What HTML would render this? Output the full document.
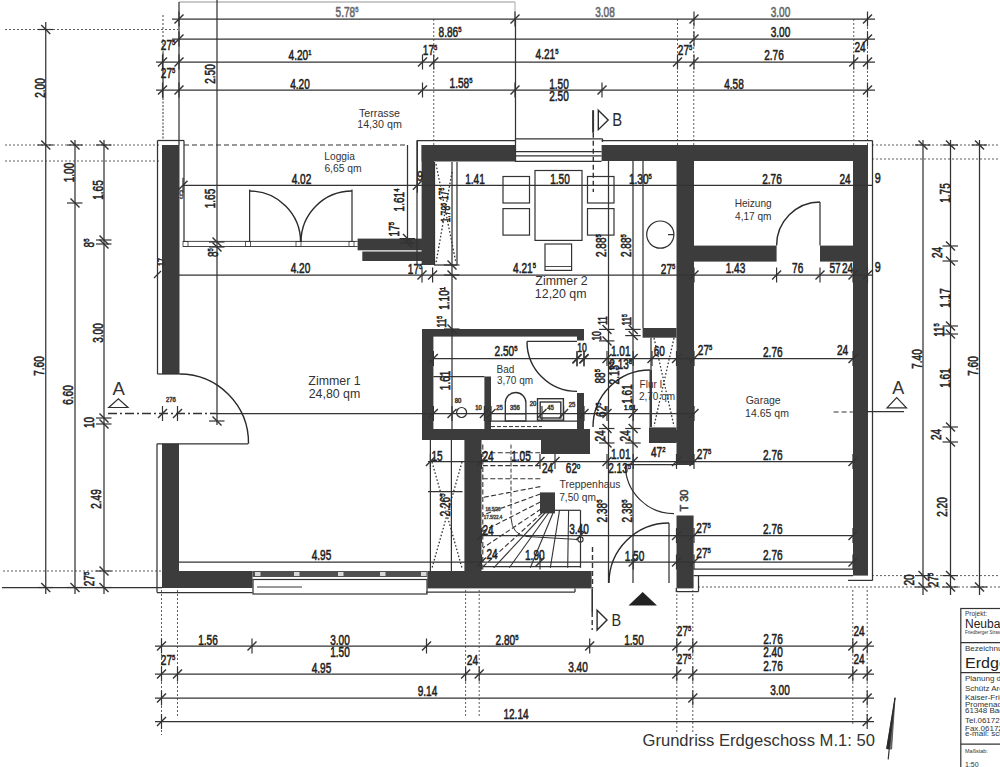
<!DOCTYPE html>
<html><head><meta charset="utf-8"><style>
html,body{margin:0;padding:0;background:#fff;overflow:hidden;}
svg{display:block;font-family:"Liberation Sans",sans-serif;}
</style></head><body>
<svg width="1000" height="767" viewBox="0 0 1000 767">
<rect width="1000" height="767" fill="#fff"/>
<line x1="179" y1="2" x2="515" y2="2" stroke="#b8b8b8" stroke-width="1.5"/>
<line x1="515" y1="2" x2="515" y2="19" stroke="#b8b8b8" stroke-width="1.2"/>
<line x1="172" y1="19" x2="875" y2="19" stroke="#333" stroke-width="1.25"/>
<line x1="172" y1="39" x2="875" y2="39" stroke="#333" stroke-width="1.25"/>
<line x1="156" y1="62" x2="875" y2="62" stroke="#333" stroke-width="1.25"/>
<line x1="156" y1="90" x2="875" y2="90" stroke="#333" stroke-width="1.25"/>
<line x1="179" y1="2" x2="179" y2="145" stroke="#333" stroke-width="1.25"/>
<line x1="515.5" y1="19" x2="515.5" y2="162" stroke="#333" stroke-width="1.25"/>
<line x1="217" y1="0" x2="217" y2="425" stroke="#333" stroke-width="1.25"/>
<line x1="163" y1="15" x2="163" y2="53" stroke="#333" stroke-width="0.9" stroke-dasharray="2,2"/>
<line x1="163" y1="53" x2="163" y2="98" stroke="#333" stroke-width="1.25"/>
<line x1="163" y1="98" x2="163" y2="140" stroke="#333" stroke-width="1" stroke-dasharray="2,1.5"/>
<line x1="433.75" y1="19" x2="433.75" y2="145" stroke="#333" stroke-width="0.8" stroke-dasharray="2,2"/>
<line x1="677.5" y1="19" x2="677.5" y2="145" stroke="#333" stroke-width="0.8" stroke-dasharray="2,2"/>
<line x1="693.75" y1="19" x2="693.75" y2="145" stroke="#333" stroke-width="0.8" stroke-dasharray="2,2"/>
<line x1="853.75" y1="19" x2="853.75" y2="145" stroke="#333" stroke-width="0.8" stroke-dasharray="2,2"/>
<line x1="867.5" y1="19" x2="867.5" y2="145" stroke="#333" stroke-width="0.8" stroke-dasharray="2,2"/>
<line x1="174.5" y1="23.5" x2="183.5" y2="14.5" stroke="#333" stroke-width="1.4"/>
<line x1="179" y1="11.5" x2="179" y2="26.5" stroke="#333" stroke-width="1.2"/>
<line x1="510.5" y1="23.5" x2="519.5" y2="14.5" stroke="#333" stroke-width="1.4"/>
<line x1="515" y1="11.5" x2="515" y2="26.5" stroke="#333" stroke-width="1.2"/>
<line x1="689.5" y1="23.5" x2="698.5" y2="14.5" stroke="#333" stroke-width="1.4"/>
<line x1="694" y1="11.5" x2="694" y2="26.5" stroke="#333" stroke-width="1.2"/>
<line x1="863.0" y1="23.5" x2="872.0" y2="14.5" stroke="#333" stroke-width="1.4"/>
<line x1="867.5" y1="11.5" x2="867.5" y2="26.5" stroke="#333" stroke-width="1.2"/>
<line x1="174.5" y1="43.5" x2="183.5" y2="34.5" stroke="#333" stroke-width="1.4"/>
<line x1="179" y1="31.5" x2="179" y2="46.5" stroke="#333" stroke-width="1.2"/>
<line x1="689.5" y1="43.5" x2="698.5" y2="34.5" stroke="#333" stroke-width="1.4"/>
<line x1="694" y1="31.5" x2="694" y2="46.5" stroke="#333" stroke-width="1.2"/>
<line x1="863.0" y1="43.5" x2="872.0" y2="34.5" stroke="#333" stroke-width="1.4"/>
<line x1="867.5" y1="31.5" x2="867.5" y2="46.5" stroke="#333" stroke-width="1.2"/>
<line x1="158.0" y1="66.5" x2="167.0" y2="57.5" stroke="#333" stroke-width="1.4"/>
<line x1="162.5" y1="54.5" x2="162.5" y2="69.5" stroke="#333" stroke-width="1.2"/>
<line x1="174.5" y1="66.5" x2="183.5" y2="57.5" stroke="#333" stroke-width="1.4"/>
<line x1="179" y1="54.5" x2="179" y2="69.5" stroke="#333" stroke-width="1.2"/>
<line x1="418.0" y1="66.5" x2="427.0" y2="57.5" stroke="#333" stroke-width="1.4"/>
<line x1="422.5" y1="54.5" x2="422.5" y2="69.5" stroke="#333" stroke-width="1.2"/>
<line x1="429.25" y1="66.5" x2="438.25" y2="57.5" stroke="#333" stroke-width="1.4"/>
<line x1="433.75" y1="54.5" x2="433.75" y2="69.5" stroke="#333" stroke-width="1.2"/>
<line x1="673.0" y1="66.5" x2="682.0" y2="57.5" stroke="#333" stroke-width="1.4"/>
<line x1="677.5" y1="54.5" x2="677.5" y2="69.5" stroke="#333" stroke-width="1.2"/>
<line x1="689.5" y1="66.5" x2="698.5" y2="57.5" stroke="#333" stroke-width="1.4"/>
<line x1="694" y1="54.5" x2="694" y2="69.5" stroke="#333" stroke-width="1.2"/>
<line x1="849.25" y1="66.5" x2="858.25" y2="57.5" stroke="#333" stroke-width="1.4"/>
<line x1="853.75" y1="54.5" x2="853.75" y2="69.5" stroke="#333" stroke-width="1.2"/>
<line x1="863.0" y1="66.5" x2="872.0" y2="57.5" stroke="#333" stroke-width="1.4"/>
<line x1="867.5" y1="54.5" x2="867.5" y2="69.5" stroke="#333" stroke-width="1.2"/>
<line x1="158.0" y1="94.5" x2="167.0" y2="85.5" stroke="#333" stroke-width="1.4"/>
<line x1="162.5" y1="82.5" x2="162.5" y2="97.5" stroke="#333" stroke-width="1.2"/>
<line x1="174.5" y1="94.5" x2="183.5" y2="85.5" stroke="#333" stroke-width="1.4"/>
<line x1="179" y1="82.5" x2="179" y2="97.5" stroke="#333" stroke-width="1.2"/>
<line x1="418.0" y1="94.5" x2="427.0" y2="85.5" stroke="#333" stroke-width="1.4"/>
<line x1="422.5" y1="82.5" x2="422.5" y2="97.5" stroke="#333" stroke-width="1.2"/>
<line x1="510.5" y1="94.5" x2="519.5" y2="85.5" stroke="#333" stroke-width="1.4"/>
<line x1="515" y1="82.5" x2="515" y2="97.5" stroke="#333" stroke-width="1.2"/>
<line x1="597.5" y1="94.5" x2="606.5" y2="85.5" stroke="#333" stroke-width="1.4"/>
<line x1="602" y1="82.5" x2="602" y2="97.5" stroke="#333" stroke-width="1.2"/>
<line x1="863.0" y1="94.5" x2="872.0" y2="85.5" stroke="#333" stroke-width="1.4"/>
<line x1="867.5" y1="82.5" x2="867.5" y2="97.5" stroke="#333" stroke-width="1.2"/>
<text transform="translate(347,12) scale(0.72,1)" y="5.04" text-anchor="middle" font-size="14" fill="#666" stroke="#666" stroke-width="0.55" font-weight="normal">5.78<tspan font-size="8.1" dy="-4.8">5</tspan></text>
<text transform="translate(605,12) scale(0.72,1)" y="5.04" text-anchor="middle" font-size="14" fill="#666" stroke="#666" stroke-width="0.55" font-weight="normal">3.08</text>
<text transform="translate(780.5,12) scale(0.72,1)" y="5.04" text-anchor="middle" font-size="14" fill="#666" stroke="#666" stroke-width="0.55" font-weight="normal">3.00</text>
<text transform="translate(450,32) scale(0.72,1)" y="5.04" text-anchor="middle" font-size="14" fill="#222" stroke="#222" stroke-width="0.55" font-weight="normal">8.86<tspan font-size="8.1" dy="-4.8">5</tspan></text>
<text transform="translate(780.5,32) scale(0.72,1)" y="5.04" text-anchor="middle" font-size="14" fill="#222" stroke="#222" stroke-width="0.55" font-weight="normal">3.00</text>
<text transform="translate(168,45) scale(0.72,1)" y="5.04" text-anchor="middle" font-size="14" fill="#222" stroke="#222" stroke-width="0.55" font-weight="normal">27<tspan font-size="8.1" dy="-4.8">5</tspan></text>
<text transform="translate(300,55) scale(0.72,1)" y="5.04" text-anchor="middle" font-size="14" fill="#222" stroke="#222" stroke-width="0.55" font-weight="normal">4.20<tspan font-size="8.1" dy="-4.8">1</tspan></text>
<text transform="translate(430,50) scale(0.72,1)" y="5.04" text-anchor="middle" font-size="14" fill="#222" stroke="#222" stroke-width="0.55" font-weight="normal">17<tspan font-size="8.1" dy="-4.8">5</tspan></text>
<text transform="translate(547,54) scale(0.72,1)" y="5.04" text-anchor="middle" font-size="14" fill="#222" stroke="#222" stroke-width="0.55" font-weight="normal">4.21<tspan font-size="8.1" dy="-4.8">5</tspan></text>
<text transform="translate(685,50) scale(0.72,1)" y="5.04" text-anchor="middle" font-size="14" fill="#222" stroke="#222" stroke-width="0.55" font-weight="normal">27<tspan font-size="8.1" dy="-4.8">5</tspan></text>
<text transform="translate(774,55) scale(0.72,1)" y="5.04" text-anchor="middle" font-size="14" fill="#222" stroke="#222" stroke-width="0.55" font-weight="normal">2.76</text>
<text transform="translate(860,47) scale(0.72,1)" y="5.04" text-anchor="middle" font-size="14" fill="#222" stroke="#222" stroke-width="0.55" font-weight="normal">24</text>
<text transform="translate(168,72.5) scale(0.72,1)" y="5.04" text-anchor="middle" font-size="14" fill="#222" stroke="#222" stroke-width="0.55" font-weight="normal">27<tspan font-size="8.1" dy="-4.8">5</tspan></text>
<text transform="translate(300,84) scale(0.72,1)" y="5.04" text-anchor="middle" font-size="14" fill="#222" stroke="#222" stroke-width="0.55" font-weight="normal">4.20</text>
<text transform="translate(461,82.5) scale(0.72,1)" y="5.04" text-anchor="middle" font-size="14" fill="#222" stroke="#222" stroke-width="0.55" font-weight="normal">1.58<tspan font-size="8.1" dy="-4.8">5</tspan></text>
<text transform="translate(559,84) scale(0.72,1)" y="5.04" text-anchor="middle" font-size="14" fill="#222" stroke="#222" stroke-width="0.55" font-weight="normal">1.50</text>
<text transform="translate(559,96) scale(0.72,1)" y="5.04" text-anchor="middle" font-size="14" fill="#222" stroke="#222" stroke-width="0.55" font-weight="normal">2.50</text>
<text transform="translate(734,84) scale(0.72,1)" y="5.04" text-anchor="middle" font-size="14" fill="#222" stroke="#222" stroke-width="0.55" font-weight="normal">4.58</text>
<text transform="translate(210,74) rotate(-90) scale(0.72,1)" y="5.04" text-anchor="middle" font-size="14" fill="#222" stroke="#222" stroke-width="0.55" font-weight="normal">2.50</text>
<line x1="45.75" y1="22" x2="45.75" y2="594" stroke="#333" stroke-width="1.25"/>
<line x1="41.25" y1="25.0" x2="50.25" y2="34.0" stroke="#333" stroke-width="1.4"/>
<line x1="37.75" y1="29.5" x2="53.25" y2="29.5" stroke="#333" stroke-width="1.2"/>
<line x1="41.25" y1="140.5" x2="50.25" y2="149.5" stroke="#333" stroke-width="1.4"/>
<line x1="37.75" y1="145" x2="53.25" y2="145" stroke="#333" stroke-width="1.2"/>
<line x1="41.25" y1="583.0" x2="50.25" y2="592.0" stroke="#333" stroke-width="1.4"/>
<line x1="37.75" y1="587.5" x2="53.25" y2="587.5" stroke="#333" stroke-width="1.2"/>
<line x1="75" y1="140" x2="75" y2="594" stroke="#333" stroke-width="1.25"/>
<line x1="70.5" y1="140.5" x2="79.5" y2="149.5" stroke="#333" stroke-width="1.4"/>
<line x1="67" y1="145" x2="82.5" y2="145" stroke="#333" stroke-width="1.2"/>
<line x1="70.5" y1="198.5" x2="79.5" y2="207.5" stroke="#333" stroke-width="1.4"/>
<line x1="67" y1="203" x2="82.5" y2="203" stroke="#333" stroke-width="1.2"/>
<line x1="70.5" y1="583.0" x2="79.5" y2="592.0" stroke="#333" stroke-width="1.4"/>
<line x1="67" y1="587.5" x2="82.5" y2="587.5" stroke="#333" stroke-width="1.2"/>
<line x1="104" y1="140" x2="104" y2="594" stroke="#333" stroke-width="1.25"/>
<line x1="99.5" y1="140.5" x2="108.5" y2="149.5" stroke="#333" stroke-width="1.4"/>
<line x1="96" y1="145" x2="111.5" y2="145" stroke="#333" stroke-width="1.2"/>
<line x1="99.5" y1="235.5" x2="108.5" y2="244.5" stroke="#333" stroke-width="1.4"/>
<line x1="96" y1="240" x2="111.5" y2="240" stroke="#333" stroke-width="1.2"/>
<line x1="99.5" y1="239.5" x2="108.5" y2="248.5" stroke="#333" stroke-width="1.4"/>
<line x1="96" y1="244" x2="111.5" y2="244" stroke="#333" stroke-width="1.2"/>
<line x1="99.5" y1="413.5" x2="108.5" y2="422.5" stroke="#333" stroke-width="1.4"/>
<line x1="96" y1="418" x2="111.5" y2="418" stroke="#333" stroke-width="1.2"/>
<line x1="99.5" y1="419.5" x2="108.5" y2="428.5" stroke="#333" stroke-width="1.4"/>
<line x1="96" y1="424" x2="111.5" y2="424" stroke="#333" stroke-width="1.2"/>
<line x1="99.5" y1="566.5" x2="108.5" y2="575.5" stroke="#333" stroke-width="1.4"/>
<line x1="96" y1="571" x2="111.5" y2="571" stroke="#333" stroke-width="1.2"/>
<line x1="99.5" y1="583.0" x2="108.5" y2="592.0" stroke="#333" stroke-width="1.4"/>
<line x1="96" y1="587.5" x2="111.5" y2="587.5" stroke="#333" stroke-width="1.2"/>
<line x1="5" y1="29.5" x2="178" y2="29.5" stroke="#333" stroke-width="0.8" stroke-dasharray="2,2"/>
<line x1="5" y1="145" x2="160" y2="145" stroke="#333" stroke-width="0.8" stroke-dasharray="2,2"/>
<line x1="5" y1="161" x2="160" y2="161" stroke="#333" stroke-width="0.8" stroke-dasharray="2,2"/>
<line x1="3" y1="571" x2="162" y2="571" stroke="#333" stroke-width="0.8" stroke-dasharray="2,2"/>
<line x1="2" y1="587.5" x2="162" y2="587.5" stroke="#333" stroke-width="1.25"/>
<text transform="translate(40,88) rotate(-90) scale(0.72,1)" y="5.04" text-anchor="middle" font-size="14" fill="#222" stroke="#222" stroke-width="0.55" font-weight="normal">2.00</text>
<text transform="translate(39,366) rotate(-90) scale(0.72,1)" y="5.04" text-anchor="middle" font-size="14" fill="#222" stroke="#222" stroke-width="0.55" font-weight="normal">7.60</text>
<text transform="translate(68.5,172.5) rotate(-90) scale(0.72,1)" y="5.04" text-anchor="middle" font-size="14" fill="#222" stroke="#222" stroke-width="0.55" font-weight="normal">1.00</text>
<text transform="translate(67.5,395) rotate(-90) scale(0.72,1)" y="5.04" text-anchor="middle" font-size="14" fill="#222" stroke="#222" stroke-width="0.55" font-weight="normal">6.60</text>
<text transform="translate(97.5,190) rotate(-90) scale(0.72,1)" y="5.04" text-anchor="middle" font-size="14" fill="#222" stroke="#222" stroke-width="0.55" font-weight="normal">1.65</text>
<text transform="translate(89,243) rotate(-90) scale(0.72,1)" y="5.04" text-anchor="middle" font-size="14" fill="#222" stroke="#222" stroke-width="0.55" font-weight="normal">8<tspan font-size="8.1" dy="-4.8">5</tspan></text>
<text transform="translate(97.5,333) rotate(-90) scale(0.72,1)" y="5.04" text-anchor="middle" font-size="14" fill="#222" stroke="#222" stroke-width="0.55" font-weight="normal">3.00</text>
<text transform="translate(89,422.5) rotate(-90) scale(0.72,1)" y="5.04" text-anchor="middle" font-size="14" fill="#222" stroke="#222" stroke-width="0.55" font-weight="normal">10</text>
<text transform="translate(96,499) rotate(-90) scale(0.72,1)" y="5.04" text-anchor="middle" font-size="14" fill="#222" stroke="#222" stroke-width="0.55" font-weight="normal">2.49</text>
<text transform="translate(89,579) rotate(-90) scale(0.72,1)" y="5.04" text-anchor="middle" font-size="14" fill="#222" stroke="#222" stroke-width="0.55" font-weight="normal">27<tspan font-size="8.1" dy="-4.8">5</tspan></text>
<line x1="923" y1="140" x2="923" y2="595" stroke="#333" stroke-width="1.25"/>
<line x1="918.5" y1="140.5" x2="927.5" y2="149.5" stroke="#333" stroke-width="1.4"/>
<line x1="915" y1="145" x2="930.5" y2="145" stroke="#333" stroke-width="1.2"/>
<line x1="918.5" y1="571.1" x2="927.5" y2="580.1" stroke="#333" stroke-width="1.4"/>
<line x1="915" y1="575.6" x2="930.5" y2="575.6" stroke="#333" stroke-width="1.2"/>
<line x1="918.5" y1="582.5" x2="927.5" y2="591.5" stroke="#333" stroke-width="1.4"/>
<line x1="915" y1="587" x2="930.5" y2="587" stroke="#333" stroke-width="1.2"/>
<line x1="950.5" y1="140" x2="950.5" y2="595" stroke="#333" stroke-width="1.25"/>
<line x1="946.0" y1="140.5" x2="955.0" y2="149.5" stroke="#333" stroke-width="1.4"/>
<line x1="942.5" y1="145" x2="958.0" y2="145" stroke="#333" stroke-width="1.2"/>
<line x1="946.0" y1="241.5" x2="955.0" y2="250.5" stroke="#333" stroke-width="1.4"/>
<line x1="942.5" y1="246" x2="958.0" y2="246" stroke="#333" stroke-width="1.2"/>
<line x1="946.0" y1="256.5" x2="955.0" y2="265.5" stroke="#333" stroke-width="1.4"/>
<line x1="942.5" y1="261" x2="958.0" y2="261" stroke="#333" stroke-width="1.2"/>
<line x1="946.0" y1="321.5" x2="955.0" y2="330.5" stroke="#333" stroke-width="1.4"/>
<line x1="942.5" y1="326" x2="958.0" y2="326" stroke="#333" stroke-width="1.2"/>
<line x1="946.0" y1="329.5" x2="955.0" y2="338.5" stroke="#333" stroke-width="1.4"/>
<line x1="942.5" y1="334" x2="958.0" y2="334" stroke="#333" stroke-width="1.2"/>
<line x1="946.0" y1="422.5" x2="955.0" y2="431.5" stroke="#333" stroke-width="1.4"/>
<line x1="942.5" y1="427" x2="958.0" y2="427" stroke="#333" stroke-width="1.2"/>
<line x1="946.0" y1="437.5" x2="955.0" y2="446.5" stroke="#333" stroke-width="1.4"/>
<line x1="942.5" y1="442" x2="958.0" y2="442" stroke="#333" stroke-width="1.2"/>
<line x1="946.0" y1="571.1" x2="955.0" y2="580.1" stroke="#333" stroke-width="1.4"/>
<line x1="942.5" y1="575.6" x2="958.0" y2="575.6" stroke="#333" stroke-width="1.2"/>
<line x1="946.0" y1="582.5" x2="955.0" y2="591.5" stroke="#333" stroke-width="1.4"/>
<line x1="942.5" y1="587" x2="958.0" y2="587" stroke="#333" stroke-width="1.2"/>
<line x1="979.5" y1="140" x2="979.5" y2="595" stroke="#333" stroke-width="1.25"/>
<line x1="975.0" y1="140.5" x2="984.0" y2="149.5" stroke="#333" stroke-width="1.4"/>
<line x1="971.5" y1="145" x2="987.0" y2="145" stroke="#333" stroke-width="1.2"/>
<line x1="975.0" y1="582.5" x2="984.0" y2="591.5" stroke="#333" stroke-width="1.4"/>
<line x1="971.5" y1="587" x2="987.0" y2="587" stroke="#333" stroke-width="1.2"/>
<line x1="872" y1="145" x2="1000" y2="145" stroke="#333" stroke-width="0.8" stroke-dasharray="2,2"/>
<line x1="872" y1="159" x2="1000" y2="159" stroke="#333" stroke-width="0.8" stroke-dasharray="2,2"/>
<line x1="872" y1="575.6" x2="1000" y2="575.6" stroke="#333" stroke-width="0.8" stroke-dasharray="2,2"/>
<line x1="698" y1="587" x2="1000" y2="587" stroke="#333" stroke-width="0.8" stroke-dasharray="2,2"/>
<text transform="translate(917,359) rotate(-90) scale(0.72,1)" y="5.04" text-anchor="middle" font-size="14" fill="#222" stroke="#222" stroke-width="0.55" font-weight="normal">7.40</text>
<text transform="translate(945,193) rotate(-90) scale(0.72,1)" y="5.04" text-anchor="middle" font-size="14" fill="#222" stroke="#222" stroke-width="0.55" font-weight="normal">1.75</text>
<text transform="translate(937,252.5) rotate(-90) scale(0.72,1)" y="5.04" text-anchor="middle" font-size="14" fill="#222" stroke="#222" stroke-width="0.55" font-weight="normal">24</text>
<text transform="translate(945,298) rotate(-90) scale(0.72,1)" y="5.04" text-anchor="middle" font-size="14" fill="#222" stroke="#222" stroke-width="0.55" font-weight="normal">1.17</text>
<text transform="translate(939,330) rotate(-90) scale(0.72,1)" y="5.04" text-anchor="middle" font-size="14" fill="#222" stroke="#222" stroke-width="0.55" font-weight="normal">11<tspan font-size="8.1" dy="-4.8">5</tspan></text>
<text transform="translate(945,378) rotate(-90) scale(0.72,1)" y="5.04" text-anchor="middle" font-size="14" fill="#222" stroke="#222" stroke-width="0.55" font-weight="normal">1.61</text>
<text transform="translate(936,434.5) rotate(-90) scale(0.72,1)" y="5.04" text-anchor="middle" font-size="14" fill="#222" stroke="#222" stroke-width="0.55" font-weight="normal">24</text>
<text transform="translate(942,507) rotate(-90) scale(0.72,1)" y="5.04" text-anchor="middle" font-size="14" fill="#222" stroke="#222" stroke-width="0.55" font-weight="normal">2.20</text>
<text transform="translate(909,580) rotate(-90) scale(0.72,1)" y="5.04" text-anchor="middle" font-size="14" fill="#222" stroke="#222" stroke-width="0.55" font-weight="normal">20</text>
<text transform="translate(933,580) rotate(-90) scale(0.72,1)" y="5.04" text-anchor="middle" font-size="14" fill="#222" stroke="#222" stroke-width="0.55" font-weight="normal">27<tspan font-size="8.1" dy="-4.8">5</tspan></text>
<text transform="translate(973,366) rotate(-90) scale(0.72,1)" y="5.04" text-anchor="middle" font-size="14" fill="#222" stroke="#222" stroke-width="0.55" font-weight="normal">7.60</text>
<line x1="155" y1="646" x2="874" y2="646" stroke="#333" stroke-width="1.25"/>
<line x1="155" y1="674" x2="874" y2="674" stroke="#333" stroke-width="1.25"/>
<line x1="155" y1="698" x2="874" y2="698" stroke="#333" stroke-width="1.25"/>
<line x1="155" y1="721.5" x2="874" y2="721.5" stroke="#333" stroke-width="1.25"/>
<line x1="157.0" y1="650.5" x2="166.0" y2="641.5" stroke="#333" stroke-width="1.4"/>
<line x1="161.5" y1="638.5" x2="161.5" y2="653.5" stroke="#333" stroke-width="1.2"/>
<line x1="247.5" y1="650.5" x2="256.5" y2="641.5" stroke="#333" stroke-width="1.4"/>
<line x1="252" y1="638.5" x2="252" y2="653.5" stroke="#333" stroke-width="1.2"/>
<line x1="422.0" y1="650.5" x2="431.0" y2="641.5" stroke="#333" stroke-width="1.4"/>
<line x1="426.5" y1="638.5" x2="426.5" y2="653.5" stroke="#333" stroke-width="1.2"/>
<line x1="585.2" y1="650.5" x2="594.2" y2="641.5" stroke="#333" stroke-width="1.4"/>
<line x1="589.7" y1="638.5" x2="589.7" y2="653.5" stroke="#333" stroke-width="1.2"/>
<line x1="672.3" y1="650.5" x2="681.3" y2="641.5" stroke="#333" stroke-width="1.4"/>
<line x1="676.8" y1="638.5" x2="676.8" y2="653.5" stroke="#333" stroke-width="1.2"/>
<line x1="688.3" y1="650.5" x2="697.3" y2="641.5" stroke="#333" stroke-width="1.4"/>
<line x1="692.8" y1="638.5" x2="692.8" y2="653.5" stroke="#333" stroke-width="1.2"/>
<line x1="848.3" y1="650.5" x2="857.3" y2="641.5" stroke="#333" stroke-width="1.4"/>
<line x1="852.8" y1="638.5" x2="852.8" y2="653.5" stroke="#333" stroke-width="1.2"/>
<line x1="862.7" y1="650.5" x2="871.7" y2="641.5" stroke="#333" stroke-width="1.4"/>
<line x1="867.2" y1="638.5" x2="867.2" y2="653.5" stroke="#333" stroke-width="1.2"/>
<line x1="157.0" y1="678.5" x2="166.0" y2="669.5" stroke="#333" stroke-width="1.4"/>
<line x1="161.5" y1="666.5" x2="161.5" y2="681.5" stroke="#333" stroke-width="1.2"/>
<line x1="173.0" y1="678.5" x2="182.0" y2="669.5" stroke="#333" stroke-width="1.4"/>
<line x1="177.5" y1="666.5" x2="177.5" y2="681.5" stroke="#333" stroke-width="1.2"/>
<line x1="461.1" y1="678.5" x2="470.1" y2="669.5" stroke="#333" stroke-width="1.4"/>
<line x1="465.6" y1="666.5" x2="465.6" y2="681.5" stroke="#333" stroke-width="1.2"/>
<line x1="474.7" y1="678.5" x2="483.7" y2="669.5" stroke="#333" stroke-width="1.4"/>
<line x1="479.2" y1="666.5" x2="479.2" y2="681.5" stroke="#333" stroke-width="1.2"/>
<line x1="672.3" y1="678.5" x2="681.3" y2="669.5" stroke="#333" stroke-width="1.4"/>
<line x1="676.8" y1="666.5" x2="676.8" y2="681.5" stroke="#333" stroke-width="1.2"/>
<line x1="688.3" y1="678.5" x2="697.3" y2="669.5" stroke="#333" stroke-width="1.4"/>
<line x1="692.8" y1="666.5" x2="692.8" y2="681.5" stroke="#333" stroke-width="1.2"/>
<line x1="848.3" y1="678.5" x2="857.3" y2="669.5" stroke="#333" stroke-width="1.4"/>
<line x1="852.8" y1="666.5" x2="852.8" y2="681.5" stroke="#333" stroke-width="1.2"/>
<line x1="862.7" y1="678.5" x2="871.7" y2="669.5" stroke="#333" stroke-width="1.4"/>
<line x1="867.2" y1="666.5" x2="867.2" y2="681.5" stroke="#333" stroke-width="1.2"/>
<line x1="157.0" y1="702.5" x2="166.0" y2="693.5" stroke="#333" stroke-width="1.4"/>
<line x1="161.5" y1="690.5" x2="161.5" y2="705.5" stroke="#333" stroke-width="1.2"/>
<line x1="688.3" y1="702.5" x2="697.3" y2="693.5" stroke="#333" stroke-width="1.4"/>
<line x1="692.8" y1="690.5" x2="692.8" y2="705.5" stroke="#333" stroke-width="1.2"/>
<line x1="862.7" y1="702.5" x2="871.7" y2="693.5" stroke="#333" stroke-width="1.4"/>
<line x1="867.2" y1="690.5" x2="867.2" y2="705.5" stroke="#333" stroke-width="1.2"/>
<line x1="157.0" y1="726.0" x2="166.0" y2="717.0" stroke="#333" stroke-width="1.4"/>
<line x1="161.5" y1="714.0" x2="161.5" y2="729.0" stroke="#333" stroke-width="1.2"/>
<line x1="862.7" y1="726.0" x2="871.7" y2="717.0" stroke="#333" stroke-width="1.4"/>
<line x1="867.2" y1="714.0" x2="867.2" y2="729.0" stroke="#333" stroke-width="1.2"/>
<line x1="161.5" y1="590" x2="161.5" y2="735" stroke="#333" stroke-width="0.8" stroke-dasharray="2,2"/>
<line x1="177.5" y1="590" x2="177.5" y2="718" stroke="#333" stroke-width="0.8" stroke-dasharray="2,2"/>
<line x1="465.6" y1="590" x2="465.6" y2="718" stroke="#333" stroke-width="0.8" stroke-dasharray="2,2"/>
<line x1="479.2" y1="590" x2="479.2" y2="718" stroke="#333" stroke-width="0.8" stroke-dasharray="2,2"/>
<line x1="676.8" y1="590" x2="676.8" y2="733" stroke="#333" stroke-width="0.8" stroke-dasharray="2,2"/>
<line x1="692.8" y1="590" x2="692.8" y2="733" stroke="#333" stroke-width="0.8" stroke-dasharray="2,2"/>
<line x1="852.8" y1="590" x2="852.8" y2="725" stroke="#333" stroke-width="0.8" stroke-dasharray="2,2"/>
<line x1="867.2" y1="590" x2="867.2" y2="725" stroke="#333" stroke-width="0.8" stroke-dasharray="2,2"/>
<text transform="translate(208,639.5) scale(0.72,1)" y="5.04" text-anchor="middle" font-size="14" fill="#222" stroke="#222" stroke-width="0.55" font-weight="normal">1.56</text>
<text transform="translate(340,639.5) scale(0.72,1)" y="5.04" text-anchor="middle" font-size="14" fill="#222" stroke="#222" stroke-width="0.55" font-weight="normal">3.00</text>
<text transform="translate(340,652) scale(0.72,1)" y="5.04" text-anchor="middle" font-size="14" fill="#222" stroke="#222" stroke-width="0.55" font-weight="normal">1.50</text>
<text transform="translate(507,639.5) scale(0.72,1)" y="5.04" text-anchor="middle" font-size="14" fill="#222" stroke="#222" stroke-width="0.55" font-weight="normal">2.80<tspan font-size="8.1" dy="-4.8">5</tspan></text>
<text transform="translate(634,639.5) scale(0.72,1)" y="5.04" text-anchor="middle" font-size="14" fill="#222" stroke="#222" stroke-width="0.55" font-weight="normal">1.50</text>
<text transform="translate(684,631) scale(0.72,1)" y="5.04" text-anchor="middle" font-size="14" fill="#222" stroke="#222" stroke-width="0.55" font-weight="normal">27<tspan font-size="8.1" dy="-4.8">5</tspan></text>
<text transform="translate(773,639) scale(0.72,1)" y="5.04" text-anchor="middle" font-size="14" fill="#222" stroke="#222" stroke-width="0.55" font-weight="normal">2.76</text>
<text transform="translate(773,652) scale(0.72,1)" y="5.04" text-anchor="middle" font-size="14" fill="#222" stroke="#222" stroke-width="0.55" font-weight="normal">2.40</text>
<text transform="translate(859,631) scale(0.72,1)" y="5.04" text-anchor="middle" font-size="14" fill="#222" stroke="#222" stroke-width="0.55" font-weight="normal">24</text>
<text transform="translate(168,660) scale(0.72,1)" y="5.04" text-anchor="middle" font-size="14" fill="#222" stroke="#222" stroke-width="0.55" font-weight="normal">27<tspan font-size="8.1" dy="-4.8">5</tspan></text>
<text transform="translate(321.5,667.5) scale(0.72,1)" y="5.04" text-anchor="middle" font-size="14" fill="#222" stroke="#222" stroke-width="0.55" font-weight="normal">4.95</text>
<text transform="translate(472.4,660) scale(0.72,1)" y="5.04" text-anchor="middle" font-size="14" fill="#222" stroke="#222" stroke-width="0.55" font-weight="normal">24</text>
<text transform="translate(578,667) scale(0.72,1)" y="5.04" text-anchor="middle" font-size="14" fill="#222" stroke="#222" stroke-width="0.55" font-weight="normal">3.40</text>
<text transform="translate(684,659) scale(0.72,1)" y="5.04" text-anchor="middle" font-size="14" fill="#222" stroke="#222" stroke-width="0.55" font-weight="normal">27<tspan font-size="8.1" dy="-4.8">5</tspan></text>
<text transform="translate(773,666) scale(0.72,1)" y="5.04" text-anchor="middle" font-size="14" fill="#222" stroke="#222" stroke-width="0.55" font-weight="normal">2.76</text>
<text transform="translate(859,659) scale(0.72,1)" y="5.04" text-anchor="middle" font-size="14" fill="#222" stroke="#222" stroke-width="0.55" font-weight="normal">24</text>
<text transform="translate(427.5,690.5) scale(0.72,1)" y="5.04" text-anchor="middle" font-size="14" fill="#222" stroke="#222" stroke-width="0.55" font-weight="normal">9.14</text>
<text transform="translate(780,690) scale(0.72,1)" y="5.04" text-anchor="middle" font-size="14" fill="#222" stroke="#222" stroke-width="0.55" font-weight="normal">3.00</text>
<text transform="translate(516,714) scale(0.72,1)" y="5.04" text-anchor="middle" font-size="14" fill="#222" stroke="#222" stroke-width="0.55" font-weight="normal">12.14</text>
<rect x="162" y="145" width="17.5" height="229" fill="#3c3c3c"/>
<rect x="162" y="443.75" width="17" height="144.25" fill="#3c3c3c"/>
<rect x="162" y="571" width="90.5" height="17" fill="#3c3c3c"/>
<rect x="427.4" y="571" width="164.2" height="17.4" fill="#3c3c3c"/>
<rect x="421.6" y="145" width="93.9" height="16.5" fill="#3c3c3c"/>
<rect x="601.6" y="145" width="266.4" height="16" fill="#3c3c3c"/>
<rect x="421.6" y="145" width="12.4" height="120" fill="#3c3c3c"/>
<rect x="357.6" y="238.6" width="76.4" height="11.7" fill="#3c3c3c"/>
<rect x="362.3" y="251.5" width="71.7" height="9.5" fill="#3c3c3c"/>
<rect x="676.5" y="161" width="17.5" height="304" fill="#3c3c3c"/>
<rect x="676.5" y="515.5" width="17.1" height="72.9" fill="#3c3c3c"/>
<rect x="853" y="145" width="15" height="430.6" fill="#3c3c3c"/>
<rect x="694" y="245.6" width="82.6" height="16.0" fill="#3c3c3c"/>
<rect x="820" y="245.6" width="33" height="16.0" fill="#3c3c3c"/>
<rect x="422" y="329" width="11.4" height="111" fill="#3c3c3c"/>
<rect x="422" y="329" width="161.4" height="7.6" fill="#3c3c3c"/>
<rect x="577" y="329" width="7" height="11.5" fill="#3c3c3c"/>
<rect x="577" y="393" width="7" height="39" fill="#3c3c3c"/>
<rect x="422" y="429" width="168" height="11" fill="#3c3c3c"/>
<rect x="541" y="440" width="49" height="14" fill="#3c3c3c"/>
<rect x="464.4" y="430" width="17.1" height="141" fill="#3c3c3c"/>
<rect x="642.6" y="328" width="33.9" height="9.7" fill="#3c3c3c"/>
<rect x="649" y="427.4" width="27.5" height="15.6" fill="#3c3c3c"/>
<rect x="649.5" y="430" width="44.1" height="12" fill="#3c3c3c"/>
<rect x="540" y="492.4" width="15" height="21.0" fill="#3c3c3c"/>
<line x1="157.5" y1="140.5" x2="157.5" y2="374" stroke="#333" stroke-width="1.25"/>
<line x1="157.5" y1="140.5" x2="184" y2="140.5" stroke="#333" stroke-width="1.25"/>
<line x1="184" y1="140.5" x2="184" y2="242" stroke="#333" stroke-width="1.25"/>
<line x1="157.5" y1="374" x2="179.5" y2="374" stroke="#333" stroke-width="1.25"/>
<line x1="157" y1="443.75" x2="157" y2="592.5" stroke="#333" stroke-width="1.25"/>
<line x1="157" y1="443.75" x2="248" y2="443.75" stroke="#333" stroke-width="1.25"/>
<line x1="157" y1="592.5" x2="252.5" y2="592.5" stroke="#333" stroke-width="1.25"/>
<line x1="184" y1="145" x2="407.5" y2="145" stroke="#333" stroke-width="1.2" stroke-dasharray="5,3"/>
<line x1="407.5" y1="145" x2="407.5" y2="242" stroke="#333" stroke-width="1.25"/>
<line x1="417.4" y1="140" x2="417.4" y2="185" stroke="#333" stroke-width="1.25"/>
<line x1="417" y1="140.5" x2="515.5" y2="140.5" stroke="#333" stroke-width="1.25"/>
<line x1="417" y1="140.5" x2="417" y2="264" stroke="#333" stroke-width="1.25"/>
<line x1="601.6" y1="140.5" x2="872.5" y2="140.5" stroke="#333" stroke-width="1.25"/>
<line x1="872.5" y1="140.5" x2="872.5" y2="580.4" stroke="#333" stroke-width="1.25"/>
<line x1="515.5" y1="138.8" x2="602.5" y2="138.8" stroke="#333" stroke-width="1.25"/>
<line x1="602.5" y1="138.8" x2="602.5" y2="142" stroke="#333" stroke-width="1.25"/>
<line x1="515.5" y1="151.6" x2="601.6" y2="151.6" stroke="#333" stroke-width="1.2"/>
<line x1="515.5" y1="155.8" x2="601.6" y2="155.8" stroke="#333" stroke-width="1.2"/>
<line x1="515.5" y1="161.4" x2="601.6" y2="161.4" stroke="#333" stroke-width="1.2"/>
<line x1="183" y1="241.4" x2="357.6" y2="241.4" stroke="#333" stroke-width="0.9"/>
<line x1="183" y1="246.5" x2="357.6" y2="246.5" stroke="#333" stroke-width="0.9"/>
<rect x="183" y="241.4" width="5" height="5.1" fill="none" stroke="#333" stroke-width="0.8"/>
<rect x="245.5" y="241.4" width="5.0" height="5.1" fill="none" stroke="#333" stroke-width="0.8"/>
<rect x="296" y="241.4" width="5" height="5.1" fill="none" stroke="#333" stroke-width="0.8"/>
<rect x="349" y="241.4" width="5" height="5.1" fill="none" stroke="#333" stroke-width="0.8"/>
<line x1="249.6" y1="189.5" x2="249.6" y2="242" stroke="#333" stroke-width="1.25"/>
<path d="M249.6,191 A51,51 0 0 1 300.6,242" fill="none" stroke="#2a2a2a" stroke-width="1.4"/>
<line x1="352" y1="189.5" x2="352" y2="242" stroke="#333" stroke-width="1.25"/>
<path d="M352,191 A51,51 0 0 0 301,242" fill="none" stroke="#2a2a2a" stroke-width="1.4"/>
<line x1="434.5" y1="162" x2="434.5" y2="265" stroke="#333" stroke-width="1.25"/>
<line x1="452" y1="162" x2="452" y2="429" stroke="#333" stroke-width="1.25"/>
<line x1="457" y1="162" x2="457" y2="265" stroke="#333" stroke-width="1.25"/>
<line x1="434" y1="265" x2="457" y2="265" stroke="#333" stroke-width="1.25"/>
<line x1="436" y1="164" x2="456" y2="263" stroke="#333" stroke-width="1.3" stroke-dasharray="1.6,2"/>
<line x1="452" y1="172" x2="436" y2="263" stroke="#333" stroke-width="1.3" stroke-dasharray="1.6,2"/>
<line x1="183" y1="185.3" x2="872.5" y2="185.3" stroke="#333" stroke-width="1.25"/>
<line x1="179" y1="275" x2="872.5" y2="275" stroke="#333" stroke-width="1.25"/>
<line x1="433" y1="358.5" x2="853" y2="358.5" stroke="#333" stroke-width="1.25"/>
<line x1="108" y1="413.5" x2="216" y2="413.5" stroke="#333" stroke-width="1.3" stroke-dasharray="9,3,2,3"/>
<line x1="216" y1="413.5" x2="421" y2="413.5" stroke="#333" stroke-width="1.25"/>
<line x1="421" y1="413.5" x2="694" y2="413.5" stroke="#333" stroke-width="1.25"/>
<line x1="428" y1="461.5" x2="853" y2="461.5" stroke="#333" stroke-width="1.25"/>
<line x1="481" y1="535.6" x2="853" y2="535.6" stroke="#333" stroke-width="1.25"/>
<line x1="179" y1="562" x2="853" y2="562" stroke="#333" stroke-width="1.25"/>
<line x1="428" y1="491.5" x2="462.5" y2="491.5" stroke="#333" stroke-width="1.25"/>
<line x1="608.5" y1="161" x2="608.5" y2="583" stroke="#333" stroke-width="1.25"/>
<line x1="633" y1="161" x2="633" y2="583" stroke="#333" stroke-width="1.25"/>
<line x1="643" y1="161" x2="643" y2="328" stroke="#333" stroke-width="1.25"/>
<line x1="593.3" y1="132.7" x2="593.3" y2="192" stroke="#333" stroke-width="1.4" stroke-dasharray="5,3"/>
<line x1="592.5" y1="547" x2="592.5" y2="588.6" stroke="#333" stroke-width="1.4" stroke-dasharray="5,3"/>
<line x1="592.2" y1="612" x2="592.2" y2="630" stroke="#333" stroke-width="1.4" stroke-dasharray="5,3"/>
<rect x="535" y="170.5" width="47" height="69.9" fill="none" stroke="#333" stroke-width="1.2"/>
<rect x="503" y="176.5" width="26.5" height="26.5" fill="none" stroke="#333" stroke-width="1.2"/>
<rect x="503" y="208.6" width="26.5" height="26.5" fill="none" stroke="#333" stroke-width="1.2"/>
<rect x="587.5" y="176.5" width="26.5" height="26.5" fill="none" stroke="#333" stroke-width="1.2"/>
<rect x="587.5" y="208.6" width="26.5" height="26.5" fill="none" stroke="#333" stroke-width="1.2"/>
<rect x="545" y="244" width="26.6" height="26.4" fill="none" stroke="#333" stroke-width="1.2"/>
<line x1="545" y1="266.5" x2="571.6" y2="266.5" stroke="#333" stroke-width="0.9"/>
<circle cx="660.3" cy="234.6" r="13.6" fill="none" stroke="#2e2e2e" stroke-width="1.2"/>
<line x1="668" y1="234.6" x2="674" y2="234.6" stroke="#333" stroke-width="1.25"/>
<line x1="820" y1="202" x2="820" y2="245.6" stroke="#333" stroke-width="1.25"/>
<path d="M820,202 A43.6,43.6 0 0 0 776.6,245.6" fill="none" stroke="#2a2a2a" stroke-width="1.4"/>
<path d="M179.5,374 A69,69 0 0 1 248.5,443.75" fill="none" stroke="#2a2a2a" stroke-width="1.4"/>
<line x1="527" y1="341.4" x2="577" y2="341.4" stroke="#333" stroke-width="1.25"/>
<path d="M527,341.4 A50,50 0 0 0 577,391.4" fill="none" stroke="#2a2a2a" stroke-width="1.4"/>
<path d="M650,370 A57,57 0 0 0 593,427" fill="none" stroke="#2a2a2a" stroke-width="1.4"/>
<rect x="649.5" y="370" width="2.5" height="57" fill="#3c3c3c"/>
<line x1="651" y1="337.7" x2="651" y2="370" stroke="#333" stroke-width="1.25"/>
<line x1="654" y1="338" x2="674" y2="426" stroke="#333" stroke-width="1.3" stroke-dasharray="1.6,2"/>
<line x1="674" y1="338" x2="654" y2="426" stroke="#333" stroke-width="1.3" stroke-dasharray="1.6,2"/>
<line x1="433.4" y1="376.5" x2="484.4" y2="376.5" stroke="#333" stroke-width="1.25"/>
<rect x="484.4" y="376.5" width="6.6" height="52.5" fill="#3c3c3c"/>
<circle cx="461.6" cy="412.5" r="5" fill="none" stroke="#2e2e2e" stroke-width="1.2"/>
<path d="M505.3,413.7 L505.3,402.8 A10.3,10.3 0 0 1 525.9,402.8 L525.9,413.7" fill="none" stroke="#2e2e2e" stroke-width="1.3"/>
<rect x="505.3" y="413.7" width="20.6" height="7.3" fill="none" stroke="#333" stroke-width="1.3"/>
<rect x="537.5" y="398.7" width="25.9" height="21.5" fill="none" stroke="#333" stroke-width="1.4"/>
<rect x="540.2" y="402" width="20.6" height="16" fill="none" stroke="#333" stroke-width="1.4"/>
<line x1="488" y1="421" x2="578" y2="421" stroke="#333" stroke-width="1.25"/>
<line x1="491" y1="426.6" x2="542" y2="426.6" stroke="#333" stroke-width="1" stroke-dasharray="4,2"/>
<line x1="430.4" y1="440" x2="430.4" y2="571" stroke="#333" stroke-width="1.25"/>
<line x1="451.4" y1="440" x2="451.4" y2="571" stroke="#333" stroke-width="1.25"/>
<line x1="432" y1="462" x2="462" y2="568" stroke="#333" stroke-width="1.3" stroke-dasharray="1.6,2"/>
<line x1="462" y1="462" x2="432" y2="568" stroke="#333" stroke-width="1.3" stroke-dasharray="1.6,2"/>
<line x1="482.8" y1="444.6" x2="482.8" y2="569.6" stroke="#333" stroke-width="1.1" stroke-dasharray="5,2.5"/>
<line x1="482.8" y1="452.8" x2="540.3" y2="452.8" stroke="#333" stroke-width="1.1" stroke-dasharray="5,2.5"/>
<line x1="482.8" y1="465.6" x2="540.3" y2="465.6" stroke="#333" stroke-width="1.1" stroke-dasharray="5,2.5"/>
<line x1="482.8" y1="478.7" x2="540.3" y2="478.7" stroke="#333" stroke-width="1.1" stroke-dasharray="5,2.5"/>
<line x1="540.3" y1="486.6" x2="482.8" y2="497.5" stroke="#333" stroke-width="1.1" stroke-dasharray="5,2.5"/>
<line x1="540.3" y1="494" x2="482.8" y2="515" stroke="#333" stroke-width="1.1" stroke-dasharray="5,2.5"/>
<line x1="540.3" y1="502" x2="482.8" y2="531.3" stroke="#333" stroke-width="1.1" stroke-dasharray="5,2.5"/>
<line x1="541" y1="509" x2="482.8" y2="548" stroke="#333" stroke-width="1.1" stroke-dasharray="5,2.5"/>
<line x1="542" y1="513" x2="483.7" y2="566" stroke="#333" stroke-width="1.1" stroke-dasharray="5,2.5"/>
<line x1="544.9" y1="513" x2="493.7" y2="567.8" stroke="#333" stroke-width="1.1"/>
<line x1="548.5" y1="513" x2="509.3" y2="567.8" stroke="#333" stroke-width="1.1"/>
<line x1="553" y1="513" x2="530.3" y2="567.8" stroke="#333" stroke-width="1.1"/>
<line x1="559.5" y1="510.3" x2="550.3" y2="567.8" stroke="#333" stroke-width="1.1"/>
<line x1="568.6" y1="510.3" x2="567.7" y2="567.8" stroke="#333" stroke-width="1.1"/>
<line x1="580.5" y1="510.3" x2="580.5" y2="567.8" stroke="#333" stroke-width="1.25"/>
<line x1="555" y1="510.3" x2="580.5" y2="510.3" stroke="#333" stroke-width="1.25"/>
<line x1="482.8" y1="566.5" x2="580.5" y2="566.5" stroke="#333" stroke-width="1.25"/>
<line x1="511" y1="444.6" x2="511" y2="518" stroke="#333" stroke-width="1" stroke-dasharray="4,2"/>
<path d="M511,518 Q512,535 527,536.5 L578,539.5" fill="none" stroke="#333" stroke-width="1"/>
<circle cx="580.5" cy="539.5" r="2.6" fill="#fff" stroke="#333" stroke-width="1.1"/>
<line x1="625.4" y1="464.6" x2="676" y2="464.6" stroke="#333" stroke-width="1.25"/>
<path d="M625.4,465 A48.6,48.6 0 0 0 674,513.6" fill="none" stroke="#2e2e2e" stroke-width="1.2"/>
<line x1="669" y1="523" x2="669" y2="583" stroke="#333" stroke-width="1.25"/>
<path d="M669,523 A60,60 0 0 0 609,583" fill="none" stroke="#2a2a2a" stroke-width="1.4"/>
<rect x="252.5" y="571" width="174.9" height="6" fill="#505050"/>
<rect x="255" y="572" width="5.5" height="4" fill="#d8d8d8"/>
<rect x="294" y="572" width="5.5" height="4" fill="#d8d8d8"/>
<rect x="338" y="572" width="5.5" height="4" fill="#d8d8d8"/>
<rect x="380" y="572" width="5.5" height="4" fill="#d8d8d8"/>
<rect x="421" y="572" width="5.5" height="4" fill="#d8d8d8"/>
<rect x="253" y="579.5" width="174" height="14.5" fill="none" stroke="#333" stroke-width="1.2"/>
<line x1="257" y1="587" x2="302" y2="587" stroke="#333" stroke-width="1"/>
<line x1="693.6" y1="569.2" x2="853" y2="569.2" stroke="#333" stroke-width="1.25"/>
<line x1="693.6" y1="575.6" x2="853" y2="575.6" stroke="#333" stroke-width="1.25"/>
<line x1="848" y1="580.4" x2="872.5" y2="580.4" stroke="#333" stroke-width="1.25"/>
<line x1="698.5" y1="575.6" x2="698.5" y2="591.6" stroke="#333" stroke-width="1.25"/>
<line x1="676.3" y1="591.6" x2="698.5" y2="591.6" stroke="#333" stroke-width="1.25"/>
<line x1="676.3" y1="588" x2="676.3" y2="592" stroke="#333" stroke-width="1.25"/>
<line x1="426" y1="592" x2="575" y2="592" stroke="#333" stroke-width="1.25"/>
<line x1="575" y1="588.4" x2="575" y2="592" stroke="#333" stroke-width="1.25"/>
<polygon points="108.75,407.5 128,407.5 118.4,398.75" fill="none" stroke="#2e2e2e" stroke-width="1.2"/>
<text x="118.75" y="395.16" text-anchor="middle" font-size="18.5" fill="#333">A</text>
<polygon points="887,407.8 906.5,407.8 896.7,397.6" fill="none" stroke="#2e2e2e" stroke-width="1.2"/>
<text x="898.2" y="394.48" text-anchor="middle" font-size="18" fill="#333">A</text>
<line x1="833.6" y1="412" x2="852.8" y2="412" stroke="#333" stroke-width="1.2" stroke-dasharray="5,3"/>
<line x1="866" y1="411.7" x2="904" y2="411.7" stroke="#333" stroke-width="1.3"/>
<line x1="593.1" y1="110.2" x2="593.1" y2="132.7" stroke="#333" stroke-width="2"/>
<polygon points="598.3,110.2 608.2,120.1 598.3,129.7" fill="none" stroke="#2a2a2a" stroke-width="1.4"/>
<text transform="translate(617.2,125.5) scale(0.85,1)" text-anchor="middle" font-size="17.5" fill="#2a2a2a">B</text>
<line x1="592.2" y1="588.6" x2="592.2" y2="612" stroke="#333" stroke-width="1.6"/>
<polygon points="597.1,610.2 607,620.1 597.1,630" fill="none" stroke="#2a2a2a" stroke-width="1.4"/>
<text transform="translate(616.2,625.5) scale(0.86,1)" text-anchor="middle" font-size="16.8" fill="#2a2a2a">B</text>
<polygon points="628.5,605.5 657,605.5 642.7,592" fill="#222"/>
<text x="379.5" y="116.85" text-anchor="middle" font-size="10.7" fill="#333">Terrasse</text>
<text x="379.5" y="128.35" text-anchor="middle" font-size="10.7" fill="#333">14,30 qm</text>
<text x="339.6" y="159.67" text-anchor="middle" font-size="10.2" fill="#333">Loggia</text>
<text x="343" y="172.21" text-anchor="middle" font-size="10.3" fill="#333">6,65 qm</text>
<text x="561.5" y="285.26" text-anchor="middle" font-size="12.4" fill="#333">Zimmer 2</text>
<text x="560.7" y="297.96" text-anchor="middle" font-size="12.4" fill="#333">12,20 qm</text>
<text x="753.2" y="207.34" text-anchor="middle" font-size="10.1" fill="#333">Heizung</text>
<text x="753.3" y="220.24" text-anchor="middle" font-size="10.1" fill="#333">4,17 qm</text>
<text x="334.5" y="384.66" text-anchor="middle" font-size="12.4" fill="#333">Zimmer 1</text>
<text x="334.5" y="398.46" text-anchor="middle" font-size="12.4" fill="#333">24,80 qm</text>
<text x="505.4" y="372.6" text-anchor="middle" font-size="10" fill="#333">Bad</text>
<text x="515" y="384.0" text-anchor="middle" font-size="10" fill="#333">3,70 qm</text>
<text x="651" y="388.3" text-anchor="middle" font-size="10" fill="#333">Flur I</text>
<text x="657" y="399.6" text-anchor="middle" font-size="10" fill="#333">2,70 qm</text>
<text x="763.2" y="403.78" text-anchor="middle" font-size="10.5" fill="#333">Garage</text>
<text x="767" y="417.28" text-anchor="middle" font-size="10.5" fill="#333">14.65 qm</text>
<text x="590" y="488.14" text-anchor="middle" font-size="10.4" fill="#333">Treppenhaus</text>
<text x="577.6" y="500.87" text-anchor="middle" font-size="10.2" fill="#333">7,50 qm</text>
<text transform="translate(684,500.5) rotate(-90) scale(1,1)" y="3.96" text-anchor="middle" font-size="11" fill="#444" stroke="#444" stroke-width="0.55" font-weight="normal">T 30</text>
<text x="758.7" y="746.48" text-anchor="middle" font-size="16.6" fill="#333">Grundriss Erdgeschoss M.1: 50</text>
<polygon points="895,697.8 886.7,748.6 891.6,749.1" fill="#777" stroke="#444" stroke-width="0.8"/>
<polygon points="895,697.8 886.7,748.6 889.4,748.8" fill="#2a2a2a" stroke="#2a2a2a" stroke-width="0.8"/>
<line x1="889.2" y1="749" x2="888.2" y2="759.4" stroke="#333" stroke-width="1.2"/>
<rect x="960.8" y="608.5" width="41.2" height="161.5" fill="none" stroke="#333" stroke-width="1.2"/>
<line x1="960.8" y1="642.6" x2="1000" y2="642.6" stroke="#333" stroke-width="1.2"/>
<line x1="960.8" y1="672.6" x2="1000" y2="672.6" stroke="#333" stroke-width="1.2"/>
<line x1="960.8" y1="744.2" x2="1000" y2="744.2" stroke="#333" stroke-width="1.2"/>
<text x="965" y="616.34" text-anchor="start" font-size="6.5" fill="#333">Projekt:</text>
<text x="965" y="627.82" text-anchor="start" font-size="12" fill="#222">Neubau Einfamilienhaus</text>
<text x="965" y="633.62" text-anchor="start" font-size="4.5" fill="#333">Friedberger Strasse</text>
<text x="965" y="650.88" text-anchor="start" font-size="8" fill="#333">Bezeichnung:</text>
<text transform="translate(965,667.5) scale(1.15,1)" font-size="14" fill="#222">Erdgeschoss</text>
<text x="965" y="680.88" text-anchor="start" font-size="8" fill="#333">Planung durch:</text>
<text x="965" y="690.88" text-anchor="start" font-size="8" fill="#333">Schütz Architekten</text>
<text x="965" y="699.88" text-anchor="start" font-size="8" fill="#333">Kaiser-Friedrich</text>
<text x="965" y="707.38" text-anchor="start" font-size="8" fill="#333">Promenade 10</text>
<text x="965" y="713.38" text-anchor="start" font-size="8" fill="#333">61348 Bad Homburg</text>
<text x="965" y="722.88" text-anchor="start" font-size="8" fill="#333">Tel.06172 12345</text>
<text x="965" y="730.88" text-anchor="start" font-size="8" fill="#333">Fax.06172 12346</text>
<text x="965" y="735.88" text-anchor="start" font-size="8" fill="#333">e-mail: schuetz</text>
<text x="965" y="753.48" text-anchor="start" font-size="5.5" fill="#333">Maßstab:</text>
<text x="965" y="766.52" text-anchor="start" font-size="7" fill="#333">1:50</text>
<text transform="translate(301.5,179) scale(0.72,1)" y="5.04" text-anchor="middle" font-size="14" fill="#222" stroke="#222" stroke-width="0.55" font-weight="normal">4.02</text>
<text transform="translate(210,198.5) rotate(-90) scale(0.72,1)" y="5.04" text-anchor="middle" font-size="14" fill="#222" stroke="#222" stroke-width="0.55" font-weight="normal">1.65</text>
<text transform="translate(212.5,252.6) rotate(-90) scale(0.72,1)" y="5.04" text-anchor="middle" font-size="14" fill="#222" stroke="#222" stroke-width="0.55" font-weight="normal">8<tspan font-size="8.1" dy="-4.8">5</tspan></text>
<text transform="translate(398.6,200) rotate(-90) scale(0.72,1)" y="5.04" text-anchor="middle" font-size="14" fill="#222" stroke="#222" stroke-width="0.55" font-weight="normal">1.61<tspan font-size="8.1" dy="-4.8">4</tspan></text>
<text transform="translate(394,229.2) rotate(-90) scale(0.72,1)" y="5.04" text-anchor="middle" font-size="14" fill="#222" stroke="#222" stroke-width="0.55" font-weight="normal">17<tspan font-size="8.1" dy="-4.8">5</tspan></text>
<text transform="translate(300.5,268.4) scale(0.72,1)" y="5.04" text-anchor="middle" font-size="14" fill="#222" stroke="#222" stroke-width="0.55" font-weight="normal">4.20</text>
<text transform="translate(415,269) scale(0.72,1)" y="5.04" text-anchor="middle" font-size="14" fill="#222" stroke="#222" stroke-width="0.55" font-weight="normal">17<tspan font-size="8.1" dy="-4.8">5</tspan></text>
<text transform="translate(420,175.5) scale(0.72,1)" y="5.04" text-anchor="middle" font-size="14" fill="#222" stroke="#222" stroke-width="0.55" font-weight="normal">9</text>
<text transform="translate(181.5,195) scale(0.72,1)" y="4.32" text-anchor="middle" font-size="12" fill="#555" stroke="#555" stroke-width="0.55" font-weight="normal">9</text>
<text transform="translate(475,178.6) scale(0.72,1)" y="5.04" text-anchor="middle" font-size="14" fill="#222" stroke="#222" stroke-width="0.55" font-weight="normal">1.41</text>
<text transform="translate(560,178.6) scale(0.72,1)" y="5.04" text-anchor="middle" font-size="14" fill="#222" stroke="#222" stroke-width="0.55" font-weight="normal">1.50</text>
<text transform="translate(640.4,178.8) scale(0.72,1)" y="5.04" text-anchor="middle" font-size="14" fill="#222" stroke="#222" stroke-width="0.55" font-weight="normal">1.30<tspan font-size="8.1" dy="-4.8">5</tspan></text>
<text transform="translate(444,194) rotate(-90) scale(0.72,1)" y="4.32" text-anchor="middle" font-size="12" fill="#222" stroke="#222" stroke-width="0.55" font-weight="normal">17<tspan font-size="7.0" dy="-4.1">5</tspan></text>
<text transform="translate(445.5,212.8) rotate(-90) scale(0.72,1)" y="4.32" text-anchor="middle" font-size="12" fill="#222" stroke="#222" stroke-width="0.55" font-weight="normal">1.78<tspan font-size="7.0" dy="-4.1">5</tspan></text>
<text transform="translate(600.5,245.6) rotate(-90) scale(0.72,1)" y="5.04" text-anchor="middle" font-size="14" fill="#222" stroke="#222" stroke-width="0.55" font-weight="normal">2.88<tspan font-size="8.1" dy="-4.8">5</tspan></text>
<text transform="translate(625.8,245.6) rotate(-90) scale(0.72,1)" y="5.04" text-anchor="middle" font-size="14" fill="#222" stroke="#222" stroke-width="0.55" font-weight="normal">2.88<tspan font-size="8.1" dy="-4.8">5</tspan></text>
<text transform="translate(524.5,268) scale(0.72,1)" y="5.04" text-anchor="middle" font-size="14" fill="#222" stroke="#222" stroke-width="0.55" font-weight="normal">4.21<tspan font-size="8.1" dy="-4.8">5</tspan></text>
<text transform="translate(668,269) scale(0.72,1)" y="5.04" text-anchor="middle" font-size="14" fill="#222" stroke="#222" stroke-width="0.55" font-weight="normal">27<tspan font-size="8.1" dy="-4.8">5</tspan></text>
<text transform="translate(444.4,298.4) rotate(-90) scale(0.72,1)" y="5.04" text-anchor="middle" font-size="14" fill="#222" stroke="#222" stroke-width="0.55" font-weight="normal">1.10<tspan font-size="8.1" dy="-4.8">1</tspan></text>
<text transform="translate(442,321.8) rotate(-90) scale(0.72,1)" y="4.32" text-anchor="middle" font-size="12" fill="#222" stroke="#222" stroke-width="0.55" font-weight="normal">11<tspan font-size="7.0" dy="-4.1">5</tspan></text>
<text transform="translate(602.8,320.6) rotate(-90) scale(0.72,1)" y="4.32" text-anchor="middle" font-size="12" fill="#222" stroke="#222" stroke-width="0.55" font-weight="normal">11</text>
<text transform="translate(626.3,320) rotate(-90) scale(0.72,1)" y="4.32" text-anchor="middle" font-size="12" fill="#222" stroke="#222" stroke-width="0.55" font-weight="normal">11<tspan font-size="7.0" dy="-4.1">5</tspan></text>
<text transform="translate(597,336) rotate(-90) scale(0.72,1)" y="4.32" text-anchor="middle" font-size="12" fill="#222" stroke="#222" stroke-width="0.55" font-weight="normal">10</text>
<text transform="translate(772,179.3) scale(0.72,1)" y="5.04" text-anchor="middle" font-size="14" fill="#222" stroke="#222" stroke-width="0.55" font-weight="normal">2.76</text>
<text transform="translate(845,179.3) scale(0.72,1)" y="5.04" text-anchor="middle" font-size="14" fill="#222" stroke="#222" stroke-width="0.55" font-weight="normal">24</text>
<text transform="translate(877.8,178) scale(0.72,1)" y="5.4" text-anchor="middle" font-size="15" fill="#222" stroke="#222" stroke-width="0.55" font-weight="normal">9</text>
<text transform="translate(735.5,267.7) scale(0.72,1)" y="5.04" text-anchor="middle" font-size="14" fill="#222" stroke="#222" stroke-width="0.55" font-weight="normal">1.43</text>
<text transform="translate(797.7,267.7) scale(0.72,1)" y="5.04" text-anchor="middle" font-size="14" fill="#222" stroke="#222" stroke-width="0.55" font-weight="normal">76</text>
<text transform="translate(835,267.7) scale(0.72,1)" y="5.04" text-anchor="middle" font-size="14" fill="#222" stroke="#222" stroke-width="0.55" font-weight="normal">57</text>
<text transform="translate(847.5,267.7) scale(0.72,1)" y="5.04" text-anchor="middle" font-size="14" fill="#222" stroke="#222" stroke-width="0.55" font-weight="normal">24</text>
<text transform="translate(877.8,266.5) scale(0.72,1)" y="5.4" text-anchor="middle" font-size="15" fill="#222" stroke="#222" stroke-width="0.55" font-weight="normal">9</text>
<text transform="translate(506,351) scale(0.72,1)" y="5.04" text-anchor="middle" font-size="14" fill="#222" stroke="#222" stroke-width="0.55" font-weight="normal">2.50<tspan font-size="8.1" dy="-4.8">5</tspan></text>
<text transform="translate(582,347.5) scale(0.72,1)" y="4.32" text-anchor="middle" font-size="12" fill="#222" stroke="#222" stroke-width="0.55" font-weight="normal">10</text>
<text transform="translate(620.7,351.3) scale(0.72,1)" y="5.04" text-anchor="middle" font-size="14" fill="#222" stroke="#222" stroke-width="0.55" font-weight="normal">1.01</text>
<text transform="translate(659.3,351.3) scale(0.72,1)" y="5.04" text-anchor="middle" font-size="14" fill="#222" stroke="#222" stroke-width="0.55" font-weight="normal">60</text>
<text transform="translate(705,350) scale(0.72,1)" y="5.04" text-anchor="middle" font-size="14" fill="#222" stroke="#222" stroke-width="0.55" font-weight="normal">27<tspan font-size="8.1" dy="-4.8">5</tspan></text>
<text transform="translate(772.8,352) scale(0.72,1)" y="5.04" text-anchor="middle" font-size="14" fill="#222" stroke="#222" stroke-width="0.55" font-weight="normal">2.76</text>
<text transform="translate(842.6,350) scale(0.72,1)" y="5.04" text-anchor="middle" font-size="14" fill="#222" stroke="#222" stroke-width="0.55" font-weight="normal">24</text>
<text transform="translate(620.7,363.8) scale(0.72,1)" y="5.04" text-anchor="middle" font-size="14" fill="#222" stroke="#222" stroke-width="0.55" font-weight="normal">2.13<tspan font-size="8.1" dy="-4.8">5</tspan></text>
<text transform="translate(599.8,376.3) rotate(-90) scale(0.72,1)" y="5.04" text-anchor="middle" font-size="14" fill="#222" stroke="#222" stroke-width="0.55" font-weight="normal">88<tspan font-size="8.1" dy="-4.8">5</tspan></text>
<text transform="translate(613.5,373) rotate(-90) scale(0.72,1)" y="5.04" text-anchor="middle" font-size="14" fill="#222" stroke="#222" stroke-width="0.55" font-weight="normal">2.13<tspan font-size="8.1" dy="-4.8">5</tspan></text>
<text transform="translate(627,394) rotate(-90) scale(0.72,1)" y="5.04" text-anchor="middle" font-size="14" fill="#222" stroke="#222" stroke-width="0.55" font-weight="normal">1.61</text>
<text transform="translate(630,407.5) scale(0.9,1)" y="2.52" text-anchor="middle" font-size="7" fill="#222" stroke="#222" stroke-width="0.55" font-weight="normal">1.61</text>
<text transform="translate(600.9,409.7) rotate(-90) scale(0.72,1)" y="5.04" text-anchor="middle" font-size="14" fill="#222" stroke="#222" stroke-width="0.55" font-weight="normal">62<tspan font-size="8.1" dy="-4.8">5</tspan></text>
<text transform="translate(599.8,435.8) rotate(-90) scale(0.72,1)" y="5.04" text-anchor="middle" font-size="14" fill="#222" stroke="#222" stroke-width="0.55" font-weight="normal">24</text>
<text transform="translate(624.9,435.8) rotate(-90) scale(0.72,1)" y="5.04" text-anchor="middle" font-size="14" fill="#222" stroke="#222" stroke-width="0.55" font-weight="normal">24</text>
<text transform="translate(445.4,380.4) rotate(-90) scale(0.72,1)" y="5.04" text-anchor="middle" font-size="14" fill="#222" stroke="#222" stroke-width="0.55" font-weight="normal">1.61</text>
<text transform="translate(458,400.6) scale(0.9,1)" y="2.34" text-anchor="middle" font-size="6.5" fill="#444" stroke="#444" stroke-width="0.55" font-weight="normal">80</text>
<text transform="translate(478.4,407.5) scale(0.9,1)" y="2.34" text-anchor="middle" font-size="6.5" fill="#444" stroke="#444" stroke-width="0.55" font-weight="normal">10</text>
<text transform="translate(499.4,407.5) scale(0.9,1)" y="2.34" text-anchor="middle" font-size="6.5" fill="#444" stroke="#444" stroke-width="0.55" font-weight="normal">25</text>
<text transform="translate(515,407.5) scale(0.9,1)" y="2.34" text-anchor="middle" font-size="6.5" fill="#444" stroke="#444" stroke-width="0.55" font-weight="normal">356</text>
<text transform="translate(533,403.5) scale(0.9,1)" y="2.34" text-anchor="middle" font-size="6.5" fill="#444" stroke="#444" stroke-width="0.55" font-weight="normal">20</text>
<text transform="translate(550.4,407.5) scale(0.9,1)" y="2.34" text-anchor="middle" font-size="6.5" fill="#444" stroke="#444" stroke-width="0.55" font-weight="normal">45</text>
<text transform="translate(572,405) scale(0.9,1)" y="2.34" text-anchor="middle" font-size="6.5" fill="#444" stroke="#444" stroke-width="0.55" font-weight="normal">25</text>
<text transform="translate(171,400) scale(0.9,1)" y="2.34" text-anchor="middle" font-size="6.5" fill="#444" stroke="#444" stroke-width="0.55" font-weight="normal">276</text>
<text transform="translate(437,456) scale(0.72,1)" y="5.04" text-anchor="middle" font-size="14" fill="#222" stroke="#222" stroke-width="0.55" font-weight="normal">15</text>
<text transform="translate(488,456.4) scale(0.72,1)" y="5.04" text-anchor="middle" font-size="14" fill="#222" stroke="#222" stroke-width="0.55" font-weight="normal">24</text>
<text transform="translate(521,456.4) scale(0.72,1)" y="5.04" text-anchor="middle" font-size="14" fill="#222" stroke="#222" stroke-width="0.55" font-weight="normal">1.05</text>
<text transform="translate(547.5,468.4) scale(0.72,1)" y="5.04" text-anchor="middle" font-size="14" fill="#222" stroke="#222" stroke-width="0.55" font-weight="normal">24</text>
<text transform="translate(573,468.4) scale(0.72,1)" y="5.04" text-anchor="middle" font-size="14" fill="#222" stroke="#222" stroke-width="0.55" font-weight="normal">62<tspan font-size="8.1" dy="-4.8">0</tspan></text>
<text transform="translate(620.7,453.5) scale(0.72,1)" y="5.04" text-anchor="middle" font-size="14" fill="#222" stroke="#222" stroke-width="0.55" font-weight="normal">1.01</text>
<text transform="translate(658.2,452) scale(0.72,1)" y="5.04" text-anchor="middle" font-size="14" fill="#222" stroke="#222" stroke-width="0.55" font-weight="normal">47<tspan font-size="8.1" dy="-4.8">2</tspan></text>
<text transform="translate(704,454) scale(0.72,1)" y="5.04" text-anchor="middle" font-size="14" fill="#222" stroke="#222" stroke-width="0.55" font-weight="normal">27<tspan font-size="8.1" dy="-4.8">5</tspan></text>
<text transform="translate(772.8,455) scale(0.72,1)" y="5.04" text-anchor="middle" font-size="14" fill="#222" stroke="#222" stroke-width="0.55" font-weight="normal">2.76</text>
<text transform="translate(619.6,468.3) scale(0.72,1)" y="5.04" text-anchor="middle" font-size="14" fill="#222" stroke="#222" stroke-width="0.55" font-weight="normal">2.13<tspan font-size="8.1" dy="-4.8">5</tspan></text>
<text transform="translate(444.5,505) rotate(-90) scale(0.72,1)" y="5.04" text-anchor="middle" font-size="14" fill="#222" stroke="#222" stroke-width="0.55" font-weight="normal">2.26<tspan font-size="8.1" dy="-4.8">5</tspan></text>
<text transform="translate(601.5,511) rotate(-90) scale(0.72,1)" y="5.04" text-anchor="middle" font-size="14" fill="#222" stroke="#222" stroke-width="0.55" font-weight="normal">2.38<tspan font-size="8.1" dy="-4.8">5</tspan></text>
<text transform="translate(627,511) rotate(-90) scale(0.72,1)" y="5.04" text-anchor="middle" font-size="14" fill="#222" stroke="#222" stroke-width="0.55" font-weight="normal">2.38<tspan font-size="8.1" dy="-4.8">5</tspan></text>
<text transform="translate(488,529.5) scale(0.72,1)" y="5.04" text-anchor="middle" font-size="14" fill="#222" stroke="#222" stroke-width="0.55" font-weight="normal">24</text>
<text transform="translate(579,529) scale(0.72,1)" y="5.04" text-anchor="middle" font-size="14" fill="#222" stroke="#222" stroke-width="0.55" font-weight="normal">3.40</text>
<text transform="translate(703.5,527.5) scale(0.72,1)" y="5.04" text-anchor="middle" font-size="14" fill="#222" stroke="#222" stroke-width="0.55" font-weight="normal">27<tspan font-size="8.1" dy="-4.8">5</tspan></text>
<text transform="translate(772.8,529) scale(0.72,1)" y="5.04" text-anchor="middle" font-size="14" fill="#222" stroke="#222" stroke-width="0.55" font-weight="normal">2.76</text>
<text transform="translate(492,554) scale(0.72,1)" y="5.04" text-anchor="middle" font-size="14" fill="#222" stroke="#222" stroke-width="0.55" font-weight="normal">24</text>
<text transform="translate(534.8,555) scale(0.72,1)" y="5.04" text-anchor="middle" font-size="14" fill="#222" stroke="#222" stroke-width="0.55" font-weight="normal">1.90</text>
<text transform="translate(634.5,555.5) scale(0.72,1)" y="5.04" text-anchor="middle" font-size="14" fill="#222" stroke="#222" stroke-width="0.55" font-weight="normal">1.50</text>
<text transform="translate(703.5,553) scale(0.72,1)" y="5.04" text-anchor="middle" font-size="14" fill="#222" stroke="#222" stroke-width="0.55" font-weight="normal">27<tspan font-size="8.1" dy="-4.8">5</tspan></text>
<text transform="translate(772.8,554.8) scale(0.72,1)" y="5.04" text-anchor="middle" font-size="14" fill="#222" stroke="#222" stroke-width="0.55" font-weight="normal">2.76</text>
<text transform="translate(321.5,554.5) scale(0.72,1)" y="5.04" text-anchor="middle" font-size="14" fill="#222" stroke="#222" stroke-width="0.55" font-weight="normal">4.95</text>
<text transform="translate(493,509.5) scale(0.9,1)" y="1.8" text-anchor="middle" font-size="5" fill="#555" stroke="#555" stroke-width="0.55" font-weight="normal">16.5/26</text>
<text transform="translate(493,517.5) scale(0.9,1)" y="1.8" text-anchor="middle" font-size="5" fill="#555" stroke="#555" stroke-width="0.55" font-weight="normal">17.5/22.4</text>
<line x1="178.5" y1="189.8" x2="187.5" y2="180.8" stroke="#333" stroke-width="1.4"/>
<line x1="183" y1="177.8" x2="183" y2="192.8" stroke="#333" stroke-width="1.2"/>
<line x1="412.9" y1="189.8" x2="421.9" y2="180.8" stroke="#333" stroke-width="1.4"/>
<line x1="417.4" y1="177.8" x2="417.4" y2="192.8" stroke="#333" stroke-width="1.2"/>
<line x1="572.5" y1="363.5" x2="581.5" y2="354.5" stroke="#333" stroke-width="1.4"/>
<line x1="577" y1="351.5" x2="577" y2="366.5" stroke="#333" stroke-width="1.2"/>
<line x1="579.5" y1="363.5" x2="588.5" y2="354.5" stroke="#333" stroke-width="1.4"/>
<line x1="584" y1="351.5" x2="584" y2="366.5" stroke="#333" stroke-width="1.2"/>
<line x1="417.5" y1="279.5" x2="426.5" y2="270.5" stroke="#333" stroke-width="1.4"/>
<line x1="422" y1="267.5" x2="422" y2="282.5" stroke="#333" stroke-width="1.2"/>
<line x1="428.1" y1="279.5" x2="437.1" y2="270.5" stroke="#333" stroke-width="1.4"/>
<line x1="432.6" y1="267.5" x2="432.6" y2="282.5" stroke="#333" stroke-width="1.2"/>
<line x1="689.5" y1="279.5" x2="698.5" y2="270.5" stroke="#333" stroke-width="1.4"/>
<line x1="694" y1="267.5" x2="694" y2="282.5" stroke="#333" stroke-width="1.2"/>
<line x1="772.1" y1="279.5" x2="781.1" y2="270.5" stroke="#333" stroke-width="1.4"/>
<line x1="776.6" y1="267.5" x2="776.6" y2="282.5" stroke="#333" stroke-width="1.2"/>
<line x1="815.5" y1="279.5" x2="824.5" y2="270.5" stroke="#333" stroke-width="1.4"/>
<line x1="820" y1="267.5" x2="820" y2="282.5" stroke="#333" stroke-width="1.2"/>
<line x1="848.5" y1="279.5" x2="857.5" y2="270.5" stroke="#333" stroke-width="1.4"/>
<line x1="853" y1="267.5" x2="853" y2="282.5" stroke="#333" stroke-width="1.2"/>
<line x1="863.0" y1="279.5" x2="872.0" y2="270.5" stroke="#333" stroke-width="1.4"/>
<line x1="867.5" y1="267.5" x2="867.5" y2="282.5" stroke="#333" stroke-width="1.2"/>
<line x1="428.9" y1="363.0" x2="437.9" y2="354.0" stroke="#333" stroke-width="1.4"/>
<line x1="433.4" y1="351.0" x2="433.4" y2="366.0" stroke="#333" stroke-width="1.2"/>
<line x1="572.5" y1="363.0" x2="581.5" y2="354.0" stroke="#333" stroke-width="1.4"/>
<line x1="577" y1="351.0" x2="577" y2="366.0" stroke="#333" stroke-width="1.2"/>
<line x1="579.5" y1="363.0" x2="588.5" y2="354.0" stroke="#333" stroke-width="1.4"/>
<line x1="584" y1="351.0" x2="584" y2="366.0" stroke="#333" stroke-width="1.2"/>
<line x1="602.5" y1="363.0" x2="611.5" y2="354.0" stroke="#333" stroke-width="1.4"/>
<line x1="607" y1="351.0" x2="607" y2="366.0" stroke="#333" stroke-width="1.2"/>
<line x1="628.7" y1="363.0" x2="637.7" y2="354.0" stroke="#333" stroke-width="1.4"/>
<line x1="633.2" y1="351.0" x2="633.2" y2="366.0" stroke="#333" stroke-width="1.2"/>
<line x1="647.5" y1="363.0" x2="656.5" y2="354.0" stroke="#333" stroke-width="1.4"/>
<line x1="652" y1="351.0" x2="652" y2="366.0" stroke="#333" stroke-width="1.2"/>
<line x1="672.0" y1="363.0" x2="681.0" y2="354.0" stroke="#333" stroke-width="1.4"/>
<line x1="676.5" y1="351.0" x2="676.5" y2="366.0" stroke="#333" stroke-width="1.2"/>
<line x1="689.5" y1="363.0" x2="698.5" y2="354.0" stroke="#333" stroke-width="1.4"/>
<line x1="694" y1="351.0" x2="694" y2="366.0" stroke="#333" stroke-width="1.2"/>
<line x1="848.5" y1="363.0" x2="857.5" y2="354.0" stroke="#333" stroke-width="1.4"/>
<line x1="853" y1="351.0" x2="853" y2="366.0" stroke="#333" stroke-width="1.2"/>
<line x1="158.0" y1="418.0" x2="167.0" y2="409.0" stroke="#333" stroke-width="1.4"/>
<line x1="162.5" y1="406.0" x2="162.5" y2="421.0" stroke="#333" stroke-width="1.2"/>
<line x1="173.0" y1="418.0" x2="182.0" y2="409.0" stroke="#333" stroke-width="1.4"/>
<line x1="177.5" y1="406.0" x2="177.5" y2="421.0" stroke="#333" stroke-width="1.2"/>
<line x1="428.9" y1="418.0" x2="437.9" y2="409.0" stroke="#333" stroke-width="1.4"/>
<line x1="433.4" y1="406.0" x2="433.4" y2="421.0" stroke="#333" stroke-width="1.2"/>
<line x1="447.5" y1="418.0" x2="456.5" y2="409.0" stroke="#333" stroke-width="1.4"/>
<line x1="452" y1="406.0" x2="452" y2="421.0" stroke="#333" stroke-width="1.2"/>
<line x1="479.9" y1="418.0" x2="488.9" y2="409.0" stroke="#333" stroke-width="1.4"/>
<line x1="484.4" y1="406.0" x2="484.4" y2="421.0" stroke="#333" stroke-width="1.2"/>
<line x1="486.5" y1="418.0" x2="495.5" y2="409.0" stroke="#333" stroke-width="1.4"/>
<line x1="491" y1="406.0" x2="491" y2="421.0" stroke="#333" stroke-width="1.2"/>
<line x1="537.5" y1="418.0" x2="546.5" y2="409.0" stroke="#333" stroke-width="1.4"/>
<line x1="542" y1="406.0" x2="542" y2="421.0" stroke="#333" stroke-width="1.2"/>
<line x1="559.1" y1="418.0" x2="568.1" y2="409.0" stroke="#333" stroke-width="1.4"/>
<line x1="563.6" y1="406.0" x2="563.6" y2="421.0" stroke="#333" stroke-width="1.2"/>
<line x1="579.5" y1="418.0" x2="588.5" y2="409.0" stroke="#333" stroke-width="1.4"/>
<line x1="584" y1="406.0" x2="584" y2="421.0" stroke="#333" stroke-width="1.2"/>
<line x1="602.5" y1="418.0" x2="611.5" y2="409.0" stroke="#333" stroke-width="1.4"/>
<line x1="607" y1="406.0" x2="607" y2="421.0" stroke="#333" stroke-width="1.2"/>
<line x1="628.7" y1="418.0" x2="637.7" y2="409.0" stroke="#333" stroke-width="1.4"/>
<line x1="633.2" y1="406.0" x2="633.2" y2="421.0" stroke="#333" stroke-width="1.2"/>
<line x1="689.5" y1="418.0" x2="698.5" y2="409.0" stroke="#333" stroke-width="1.4"/>
<line x1="694" y1="406.0" x2="694" y2="421.0" stroke="#333" stroke-width="1.2"/>
<line x1="425.9" y1="466.0" x2="434.9" y2="457.0" stroke="#333" stroke-width="1.4"/>
<line x1="430.4" y1="454.0" x2="430.4" y2="469.0" stroke="#333" stroke-width="1.2"/>
<line x1="477.0" y1="466.0" x2="486.0" y2="457.0" stroke="#333" stroke-width="1.4"/>
<line x1="481.5" y1="454.0" x2="481.5" y2="469.0" stroke="#333" stroke-width="1.2"/>
<line x1="535.5" y1="466.0" x2="544.5" y2="457.0" stroke="#333" stroke-width="1.4"/>
<line x1="540" y1="454.0" x2="540" y2="469.0" stroke="#333" stroke-width="1.2"/>
<line x1="550.5" y1="466.0" x2="559.5" y2="457.0" stroke="#333" stroke-width="1.4"/>
<line x1="555" y1="454.0" x2="555" y2="469.0" stroke="#333" stroke-width="1.2"/>
<line x1="602.5" y1="466.0" x2="611.5" y2="457.0" stroke="#333" stroke-width="1.4"/>
<line x1="607" y1="454.0" x2="607" y2="469.0" stroke="#333" stroke-width="1.2"/>
<line x1="628.7" y1="466.0" x2="637.7" y2="457.0" stroke="#333" stroke-width="1.4"/>
<line x1="633.2" y1="454.0" x2="633.2" y2="469.0" stroke="#333" stroke-width="1.2"/>
<line x1="672.0" y1="466.0" x2="681.0" y2="457.0" stroke="#333" stroke-width="1.4"/>
<line x1="676.5" y1="454.0" x2="676.5" y2="469.0" stroke="#333" stroke-width="1.2"/>
<line x1="689.5" y1="466.0" x2="698.5" y2="457.0" stroke="#333" stroke-width="1.4"/>
<line x1="694" y1="454.0" x2="694" y2="469.0" stroke="#333" stroke-width="1.2"/>
<line x1="848.5" y1="466.0" x2="857.5" y2="457.0" stroke="#333" stroke-width="1.4"/>
<line x1="853" y1="454.0" x2="853" y2="469.0" stroke="#333" stroke-width="1.2"/>
<line x1="477.0" y1="540.1" x2="486.0" y2="531.1" stroke="#333" stroke-width="1.4"/>
<line x1="481.5" y1="528.1" x2="481.5" y2="543.1" stroke="#333" stroke-width="1.2"/>
<line x1="576.0" y1="540.1" x2="585.0" y2="531.1" stroke="#333" stroke-width="1.4"/>
<line x1="580.5" y1="528.1" x2="580.5" y2="543.1" stroke="#333" stroke-width="1.2"/>
<line x1="672.0" y1="540.1" x2="681.0" y2="531.1" stroke="#333" stroke-width="1.4"/>
<line x1="676.5" y1="528.1" x2="676.5" y2="543.1" stroke="#333" stroke-width="1.2"/>
<line x1="689.5" y1="540.1" x2="698.5" y2="531.1" stroke="#333" stroke-width="1.4"/>
<line x1="694" y1="528.1" x2="694" y2="543.1" stroke="#333" stroke-width="1.2"/>
<line x1="848.5" y1="540.1" x2="857.5" y2="531.1" stroke="#333" stroke-width="1.4"/>
<line x1="853" y1="528.1" x2="853" y2="543.1" stroke="#333" stroke-width="1.2"/>
<line x1="477.0" y1="566.5" x2="486.0" y2="557.5" stroke="#333" stroke-width="1.4"/>
<line x1="481.5" y1="554.5" x2="481.5" y2="569.5" stroke="#333" stroke-width="1.2"/>
<line x1="535.5" y1="566.5" x2="544.5" y2="557.5" stroke="#333" stroke-width="1.4"/>
<line x1="540" y1="554.5" x2="540" y2="569.5" stroke="#333" stroke-width="1.2"/>
<line x1="628.7" y1="566.5" x2="637.7" y2="557.5" stroke="#333" stroke-width="1.4"/>
<line x1="633.2" y1="554.5" x2="633.2" y2="569.5" stroke="#333" stroke-width="1.2"/>
<line x1="672.0" y1="566.5" x2="681.0" y2="557.5" stroke="#333" stroke-width="1.4"/>
<line x1="676.5" y1="554.5" x2="676.5" y2="569.5" stroke="#333" stroke-width="1.2"/>
<line x1="689.5" y1="566.5" x2="698.5" y2="557.5" stroke="#333" stroke-width="1.4"/>
<line x1="694" y1="554.5" x2="694" y2="569.5" stroke="#333" stroke-width="1.2"/>
<line x1="848.5" y1="566.5" x2="857.5" y2="557.5" stroke="#333" stroke-width="1.4"/>
<line x1="853" y1="554.5" x2="853" y2="569.5" stroke="#333" stroke-width="1.2"/>
<line x1="602.5" y1="324.9" x2="611.5" y2="333.9" stroke="#333" stroke-width="1.4"/>
<line x1="599" y1="329.4" x2="614.5" y2="329.4" stroke="#333" stroke-width="1.2"/>
<line x1="602.5" y1="336.4" x2="611.5" y2="345.4" stroke="#333" stroke-width="1.4"/>
<line x1="599" y1="340.9" x2="614.5" y2="340.9" stroke="#333" stroke-width="1.2"/>
<line x1="602.5" y1="424.0" x2="611.5" y2="433.0" stroke="#333" stroke-width="1.4"/>
<line x1="599" y1="428.5" x2="614.5" y2="428.5" stroke="#333" stroke-width="1.2"/>
<line x1="602.5" y1="438.5" x2="611.5" y2="447.5" stroke="#333" stroke-width="1.4"/>
<line x1="599" y1="443" x2="614.5" y2="443" stroke="#333" stroke-width="1.2"/>
<line x1="628.7" y1="324.9" x2="637.7" y2="333.9" stroke="#333" stroke-width="1.4"/>
<line x1="625.2" y1="329.4" x2="640.7" y2="329.4" stroke="#333" stroke-width="1.2"/>
<line x1="628.7" y1="331.1" x2="637.7" y2="340.1" stroke="#333" stroke-width="1.4"/>
<line x1="625.2" y1="335.6" x2="640.7" y2="335.6" stroke="#333" stroke-width="1.2"/>
<line x1="628.7" y1="424.0" x2="637.7" y2="433.0" stroke="#333" stroke-width="1.4"/>
<line x1="625.2" y1="428.5" x2="640.7" y2="428.5" stroke="#333" stroke-width="1.2"/>
<line x1="628.7" y1="438.5" x2="637.7" y2="447.5" stroke="#333" stroke-width="1.4"/>
<line x1="625.2" y1="443" x2="640.7" y2="443" stroke="#333" stroke-width="1.2"/>
<line x1="212.5" y1="237.5" x2="221.5" y2="246.5" stroke="#333" stroke-width="1.4"/>
<line x1="209" y1="242" x2="224.5" y2="242" stroke="#333" stroke-width="1.2"/>
<line x1="212.5" y1="242.5" x2="221.5" y2="251.5" stroke="#333" stroke-width="1.4"/>
<line x1="209" y1="247" x2="224.5" y2="247" stroke="#333" stroke-width="1.2"/>
<line x1="212.5" y1="416.5" x2="221.5" y2="425.5" stroke="#333" stroke-width="1.4"/>
<line x1="209" y1="421" x2="224.5" y2="421" stroke="#333" stroke-width="1.2"/>
<line x1="403.0" y1="234.1" x2="412.0" y2="243.1" stroke="#333" stroke-width="1.4"/>
<line x1="399.5" y1="238.6" x2="415.0" y2="238.6" stroke="#333" stroke-width="1.2"/>
<line x1="403.0" y1="238.5" x2="412.0" y2="247.5" stroke="#333" stroke-width="1.4"/>
<line x1="399.5" y1="243" x2="415.0" y2="243" stroke="#333" stroke-width="1.2"/>
<line x1="447.5" y1="260.5" x2="456.5" y2="269.5" stroke="#333" stroke-width="1.4"/>
<line x1="444" y1="265" x2="459.5" y2="265" stroke="#333" stroke-width="1.2"/>
<line x1="447.5" y1="270.5" x2="456.5" y2="279.5" stroke="#333" stroke-width="1.4"/>
<line x1="444" y1="275" x2="459.5" y2="275" stroke="#333" stroke-width="1.2"/>
<line x1="447.5" y1="324.5" x2="456.5" y2="333.5" stroke="#333" stroke-width="1.4"/>
<line x1="444" y1="329" x2="459.5" y2="329" stroke="#333" stroke-width="1.2"/>
<text transform="translate(160.5,262) rotate(-90) scale(0.8,1)" y="3.24" text-anchor="middle" font-size="9" fill="#333" stroke="#333" stroke-width="0.55" font-weight="normal">17</text>
<line x1="154" y1="278" x2="161" y2="271" stroke="#333" stroke-width="1.2"/>
</svg></body></html>
